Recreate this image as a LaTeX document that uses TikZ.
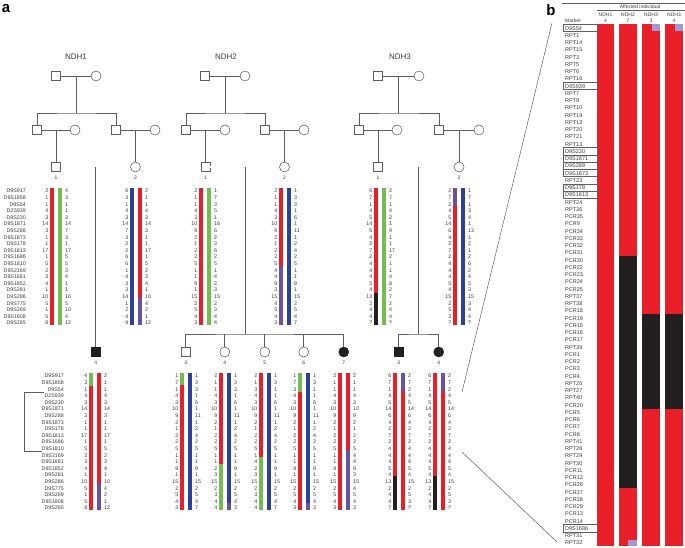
\documentclass[tikz,border=0pt]{standalone}
\usepackage{fontspec}
\setmainfont{Liberation Sans}
\usetikzlibrary{calc}
\definecolor{hred}{RGB}{232,30,40}
\definecolor{hgreen}{RGB}{115,188,80}
\definecolor{hblue}{RGB}{45,65,155}
\definecolor{hpurple}{RGB}{105,82,165}
\definecolor{hblack}{RGB}{35,31,32}
\definecolor{hlilac}{RGB}{165,150,215}
\definecolor{pline}{RGB}{95,95,95}
\definecolor{txt}{RGB}{60,60,60}
\tikzset{
  link/.style={draw=pline, line width=0.55pt},
  male/.style={draw=pline, line width=0.55pt, fill=white, rectangle, minimum size=9pt, inner sep=0pt},
  female/.style={draw=pline, line width=0.55pt, fill=white, circle, minimum size=10pt, inner sep=0pt},
  affm/.style={male, fill=hblack, draw=hblack},
  afff/.style={female, fill=hblack, draw=hblack},
  title/.style={font=\fontsize{8}{9}\selectfont, text=txt},
  idno/.style={font=\fontsize{5}{6}\selectfont, text=txt, inner sep=0pt},
  allL/.style={font=\fontsize{5.3}{6.6}\selectfont, text=txt, inner sep=0pt, align=right, anchor=north east},
  allR/.style={font=\fontsize{5.3}{6.6}\selectfont, text=txt, inner sep=0pt, align=left, anchor=north west},
  mkb/.style={font=\fontsize{5.5}{7.25}\selectfont, text=txt, inner sep=0pt, align=left, anchor=north west},
  hdr/.style={font=\fontsize{5}{5.6}\selectfont, text=txt, inner sep=0pt, align=center},
  panel/.style={font=\fontsize{15}{16}\selectfont\bfseries, inner sep=0pt},
  zoomline/.style={draw=pline, line width=0.5pt},
  mkbox/.style={draw=pline, line width=0.5pt}
}
\newcommand{\hapnums}[5]{%
  \node[allL] (#1l) at ({#2-3.5},#3) {#4};
  \node[allR] (#1r) at ({#2+13},#3) {#5};}
\newcommand{\hapbar}[4]{\fill[#1] ({#2-2},#3) rectangle ({#2+2},#4);}
\begin{document}
\begin{tikzpicture}[x=1pt,y=-1pt]
  \useasboundingbox (0,0) rectangle (685,548);
  \node[panel] (pa) at (6,9) {a};

  % NDH1
  \node[title] (t1) at (76,57) {NDH1};
  \node[male] (a11) at (56,76) {};
  \node[female] (a12) at (96,76) {};
  \node[male] (a21) at (37,130) {};
  \node[female] (a22) at (75,130) {};
  \node[male] (a23) at (116,130) {};
  \node[female] (a24) at (155,130) {};
  \node[male] (a31) at (56,167) {};
  \node[female] (a32) at (135.5,167) {};
  \node[affm] (a41) at (95.75,352) {};
  \coordinate (s11) at (76,113);
  \draw[link] (a11) -- (a12);
  \draw[link] ($(a11)!0.5!(a12)$) -- (s11);
  \draw[link] (a21) |- (s11) -| (a23);
  \draw[link] (a21) -- (a22);
  \draw[link] (a23) -- (a24);
  \draw[link] ($(a21)!0.5!(a22)$) -- (a31);
  \draw[link] ($(a23)!0.5!(a24)$) -- (a32);
  \draw[link,double=white,double distance=1.2pt] (a31) -- (a32);
  \draw[link] ($(a31)!0.5!(a32)$) -- (a41);
  \node[idno] (a31n) at (56,178) {1};
  \node[idno] (a32n) at (135.5,178) {2};
  \node[idno] (a41n) at (95.75,363) {4};

  % NDH2
  \node[title] (t2) at (226,57) {NDH2};
  \node[male] (b11) at (205,76) {};
  \node[female] (b12) at (245,76) {};
  \node[male] (b21) at (186,130) {};
  \node[female] (b22) at (225,130) {};
  \node[male] (b23) at (265,130) {};
  \node[female] (b24) at (304,130) {};
  \node[male] (b31) at (205.5,167) {};
  \node[female] (b32) at (284.5,167) {};
  \node[male] (b41) at (185.75,352) {};
  \node[female] (b42) at (224.75,352) {};
  \node[female] (b43) at (264.75,352) {};
  \node[female] (b44) at (303.75,352) {};
  \node[afff] (b45) at (343.75,352) {};
  \coordinate (s21) at (225,113);
  \coordinate (s22) at (245,334);
  \draw[link] (b11) -- (b12);
  \draw[link] ($(b11)!0.5!(b12)$) -- (s21);
  \draw[link] (b21) |- (s21) -| (b23);
  \draw[link] (b21) -- (b22);
  \draw[link] (b23) -- (b24);
  \draw[link] ($(b21)!0.5!(b22)$) -- (b31);
  \draw[link] ($(b23)!0.5!(b24)$) -- (b32);
  \draw[link,double=white,double distance=1.2pt] (b31) -- (b32);
  \draw[link] ($(b31)!0.5!(b32)$) -- (s22);
  \draw[link] (b41) |- (s22) -| (b45);
  \draw[link] (b42) -- (b42 |- s22);
  \draw[link] (b43) -- (b43 |- s22);
  \draw[link] (b44) -- (b44 |- s22);
  \node[idno] (b31n) at (205.5,178) {1};
  \node[idno] (b32n) at (284.5,178) {2};
  \node[idno] (b41n) at (185.75,363) {3};
  \node[idno] (b42n) at (224.75,363) {4};
  \node[idno] (b43n) at (264.75,363) {5};
  \node[idno] (b44n) at (303.75,363) {6};
  \node[idno] (b45n) at (343.75,363) {7};

  % NDH3
  \node[title] (t3) at (400,57) {NDH3};
  \node[male] (c11) at (378,76) {};
  \node[female] (c12) at (419,76) {};
  \node[male] (c21) at (359,130) {};
  \node[female] (c22) at (397,130) {};
  \node[male] (c23) at (439,130) {};
  \node[female] (c24) at (479,130) {};
  \node[male] (c31) at (378,167) {};
  \node[female] (c32) at (459,167) {};
  \node[affm] (c41) at (398.75,352) {};
  \node[afff] (c42) at (438.75,352) {};
  \coordinate (s31) at (398.5,113);
  \coordinate (s32) at (418.5,334);
  \draw[link] (c11) -- (c12);
  \draw[link] ($(c11)!0.5!(c12)$) -- (s31);
  \draw[link] (c21) |- (s31) -| (c23);
  \draw[link] (c21) -- (c22);
  \draw[link] (c23) -- (c24);
  \draw[link] ($(c21)!0.5!(c22)$) -- (c31);
  \draw[link] ($(c23)!0.5!(c24)$) -- (c32);
  \draw[link,double=white,double distance=1.2pt] (c31) -- (c32);
  \draw[link] ($(c31)!0.5!(c32)$) -- (s32);
  \draw[link] (c41) |- (s32) -| (c42);
  \node[idno] (c31n) at (378,178) {1};
  \node[idno] (c32n) at (459,178) {2};
  \node[idno] (c41n) at (398.75,363) {3};
  \node[idno] (c42n) at (438.75,363) {4};

  % marker names
  \node[allL] (mk1) at (26,189) {D9S917\\D9S1858\\D9S54\\D2S939\\D9S230\\D9S1871\\D9S288\\D9S1873\\D9S178\\D9S1813\\D9S1686\\D9S1810\\D9S2169\\D9S1681\\D9S1852\\D9S281\\D9S286\\D9S775\\D9S269\\D9S1808\\D9S265};
  \node[allL] (mk2) at (64,374) {D9S917\\D9S1858\\D9S54\\D2S939\\D9S230\\D9S1871\\D9S288\\D9S1873\\D9S178\\D9S1813\\D9S1686\\D9S1810\\D9S2169\\D9S1681\\D9S1852\\D9S281\\D9S286\\D9S775\\D9S269\\D9S1808\\D9S265};
  \draw[link] (44,392) -- (24,392) -- (24,451) -- (42,451);

  % NDH1 haplotypes
  \hapbar{hred}{52}{188}{325}
  \hapbar{hgreen}{59.5}{188}{325}
  \hapnums{ha1}{52}{189}{2\\1\\1\\4\\3\\14\\3\\1\\1\\17\\1\\5\\2\\3\\4\\1\\10\\5\\1\\5\\8}{4\\3\\1\\1\\3\\14\\7\\3\\1\\17\\5\\5\\3\\4\\1\\1\\16\\5\\10\\4\\12}
  \hapbar{hblue}{132}{188}{325}
  \hapbar{hred}{139.5}{188}{298}
  \hapbar{hpurple}{139.5}{298}{325}
  \hapnums{ha2}{132}{189}{6\\3\\1\\4\\3\\14\\7\\3\\2\\2\\6\\6\\1\\4\\3\\3\\14\\1\\2\\4\\9}{2\\1\\1\\4\\3\\14\\3\\1\\1\\17\\1\\5\\2\\3\\4\\1\\10\\4\\2\\1\\12}
  \hapbar{hgreen}{91}{373}{386}
  \hapbar{hred}{91}{386}{510}
  \hapbar{hred}{98.5}{373}{483}
  \hapbar{hpurple}{98.5}{483}{510}
  \hapnums{ha4}{91}{374}{4\\3\\1\\4\\3\\14\\3\\1\\1\\17\\1\\5\\2\\3\\4\\1\\10\\5\\1\\5\\8}{2\\1\\1\\4\\3\\14\\3\\1\\1\\17\\1\\5\\2\\3\\4\\1\\10\\4\\2\\1\\12}

  % NDH2 haplotypes
  \hapbar{hred}{201}{188}{325}
  \hapbar{hgreen}{208.5}{188}{325}
  \hapnums{hb1}{201}{189}{2\\1\\1\\4\\3\\10\\9\\2\\1\\2\\2\\5\\1\\1\\9\\1\\15\\2\\5\\4\\3}{1\\7\\3\\5\\1\\16\\6\\2\\3\\6\\2\\5\\1\\4\\2\\3\\15\\2\\3\\4\\4}
  \hapbar{hred}{281}{188}{266}
  \hapbar{hpurple}{281}{266}{325}
  \hapbar{hblue}{288.5}{188}{325}
  \hapnums{hb2}{281}{189}{2\\1\\1\\4\\3\\10\\9\\2\\1\\2\\2\\5\\4\\4\\9\\3\\15\\4\\5\\4\\3}{1\\3\\3\\1\\6\\1\\11\\1\\2\\4\\2\\5\\1\\1\\9\\1\\15\\2\\5\\4\\7}
  \hapbar{hgreen}{182}{373}{385}
  \hapbar{hred}{182}{385}{510}
  \hapbar{hblue}{189.5}{373}{510}
  \hapnums{hb3}{182}{374}{1\\7\\1\\4\\3\\10\\9\\2\\1\\2\\2\\5\\1\\1\\9\\1\\15\\2\\5\\4\\3}{1\\3\\3\\1\\6\\1\\11\\1\\2\\4\\2\\5\\1\\1\\9\\1\\15\\2\\5\\4\\7}
  \hapbar{hred}{221}{373}{464}
  \hapbar{hgreen}{221}{464}{510}
  \hapbar{hblue}{228.5}{373}{503}
  \hapbar{hpurple}{228.5}{503}{510}
  \hapnums{hb4}{221}{374}{2\\1\\1\\4\\3\\10\\9\\2\\1\\2\\2\\5\\1\\1\\2\\3\\15\\2\\3\\4\\4}{1\\3\\3\\1\\6\\1\\11\\1\\2\\4\\2\\5\\1\\1\\9\\1\\15\\2\\5\\4\\3}
  \hapbar{hred}{261}{373}{457}
  \hapbar{hgreen}{261}{457}{510}
  \hapbar{hblue}{268.5}{373}{510}
  \hapnums{hb5}{261}{374}{2\\1\\3\\4\\3\\10\\9\\2\\1\\2\\2\\5\\1\\4\\2\\3\\15\\2\\3\\4\\4}{1\\3\\1\\1\\6\\1\\11\\1\\2\\4\\2\\5\\1\\1\\9\\1\\15\\2\\5\\4\\7}
  \hapbar{hgreen}{300}{373}{392}
  \hapbar{hred}{300}{392}{510}
  \hapbar{hblue}{307.5}{373}{503}
  \hapbar{hpurple}{307.5}{503}{510}
  \hapnums{hb6}{300}{374}{1\\7\\3\\4\\3\\10\\9\\2\\1\\2\\2\\5\\1\\1\\9\\1\\15\\2\\5\\4\\3}{1\\3\\1\\1\\6\\1\\11\\1\\2\\4\\2\\5\\1\\1\\9\\1\\15\\2\\5\\4\\3}
  \hapbar{hred}{340}{373}{510}
  \hapbar{hred}{347.5}{373}{450}
  \hapbar{hpurple}{347.5}{450}{510}
  \hapnums{hb7}{340}{374}{2\\1\\1\\4\\3\\10\\9\\2\\1\\2\\2\\5\\1\\1\\9\\1\\15\\2\\5\\4\\3}{2\\1\\1\\4\\3\\10\\9\\2\\1\\2\\2\\5\\4\\4\\9\\3\\15\\4\\5\\4\\3}

  % NDH3 haplotypes
  \hapbar{hred}{376}{188}{293}
  \hapbar{hblack}{376}{293}{325}
  \hapbar{hgreen}{383.5}{188}{325}
  \hapnums{hc1}{376}{189}{6\\7\\1\\4\\5\\14\\6\\4\\2\\7\\2\\4\\4\\4\\5\\4\\13\\2\\4\\4\\?}{2\\7\\1\\4\\2\\1\\9\\1\\1\\17\\2\\1\\1\\4\\8\\2\\7\\2\\4\\4\\?}
  \hapbar{hpurple}{455}{188}{206}
  \hapbar{hred}{455}{206}{325}
  \hapbar{hblue}{462.5}{188}{325}
  \hapnums{hc2}{455}{189}{2\\7\\2\\4\\5\\14\\6\\4\\2\\7\\2\\4\\4\\4\\5\\4\\15\\2\\5\\3\\?}{1\\7\\1\\3\\4\\1\\13\\1\\2\\1\\2\\6\\2\\4\\5\\3\\15\\3\\4\\4\\?}
  \hapbar{hred}{395}{373}{476}
  \hapbar{hblack}{395}{476}{510}
  \hapbar{hpurple}{402.5}{373}{391}
  \hapbar{hred}{402.5}{391}{510}
  \hapnums{hc3}{395}{374}{6\\7\\1\\4\\5\\14\\6\\4\\2\\7\\2\\4\\4\\4\\5\\4\\13\\2\\4\\4\\?}{2\\7\\2\\4\\5\\14\\6\\4\\2\\7\\2\\4\\4\\4\\5\\4\\15\\2\\5\\3\\?}
  \hapbar{hred}{435}{373}{476}
  \hapbar{hblack}{435}{476}{510}
  \hapbar{hpurple}{442.5}{373}{391}
  \hapbar{hred}{442.5}{391}{510}
  \hapnums{hc4}{435}{374}{6\\7\\1\\4\\5\\14\\6\\4\\2\\7\\2\\4\\4\\4\\5\\4\\13\\2\\4\\4\\?}{2\\7\\2\\4\\5\\14\\6\\4\\2\\7\\2\\4\\4\\4\\5\\4\\15\\2\\5\\3\\?}

  % lines to panel b
  \coordinate (z1) at (462,392);
  \coordinate (z2) at (552,23);
  \coordinate (z3) at (462,452);
  \coordinate (z4) at (557,542);
  \draw[zoomline] (z1) -- (z2);
  \draw[zoomline] (z3) -- (z4);

  % panel b
  \node[panel] (pb) at (551,10) {b};
  \draw[mkbox] (562,3) -- (685,3);
  \node[hdr] (aff) at (640,6.8) {Affected individual};
  \draw[mkbox] (597,10.5) -- (685,10.5);
  \node[hdr] (hd1) at (605.5,17.6) {NDH1\\4};
  \node[hdr] (hd2) at (628,17.6) {NDH2\\7};
  \node[hdr] (hd3) at (651,17.6) {NDH3\\3};
  \node[hdr] (hd4) at (674,17.6) {NDH3\\4};
  \node[hdr, anchor=west] (mkh) at (565,20.3) {Marker};

  \fill[hred] (597,24) rectangle (614,546);
  \fill[hred] (619,24) rectangle (637,546);
  \fill[hblack] (619,256.4) rectangle (637,488.4);
  \fill[hlilac] (628,539.5) rectangle (637,546);
  \fill[hred] (642,24) rectangle (660,546);
  \fill[hblack] (642,314.4) rectangle (660,408.6);
  \fill[hlilac] (652,24) rectangle (660,31);
  \fill[hred] (665,24) rectangle (683,546);
  \fill[hblack] (665,314.4) rectangle (683,408.6);
  \fill[hlilac] (675,24) rectangle (683,31);

  \node[mkb] (mk3) at (565,26) {D9S54\\RPT1\\RPT14\\RPT15\\RPT3\\RPT5\\RPT6\\RPT16\\D9S939\\RPT7\\RPT9\\RPT10\\RPT19\\RPT12\\RPT20\\RPT21\\RPT13\\D9S230\\D9S1871\\D9S288\\D9S1873\\RPT23\\D9S178\\D9S1813\\RPT24\\RPT36\\PCR35\\PCR9\\PCR34\\PCR33\\PCR32\\PCR31\\PCR30\\PCR22\\PCR23\\PCR24\\PCR25\\RPT37\\RPT38\\PCR18\\PCR19\\PCR15\\PCR16\\PCR17\\RPT39\\PCR1\\PCR2\\PCR3\\PCR4\\RPT26\\RPT27\\RPT40\\PCR20\\PCR5\\PCR6\\PCR7\\PCR8\\RPT41\\RPT28\\RPT29\\RPT30\\PCR11\\PCR12\\PCR26\\PCR27\\PCR28\\PCR29\\PCR13\\PCR14\\D9S1686\\RPT31\\RPT32};
  \foreach \i in {0,8,17,18,19,20,22,23,69}
    \draw[mkbox] (563,{24.4+7.25*\i}) rectangle (597,{31.65+7.25*\i});
\end{tikzpicture}
\end{document}
